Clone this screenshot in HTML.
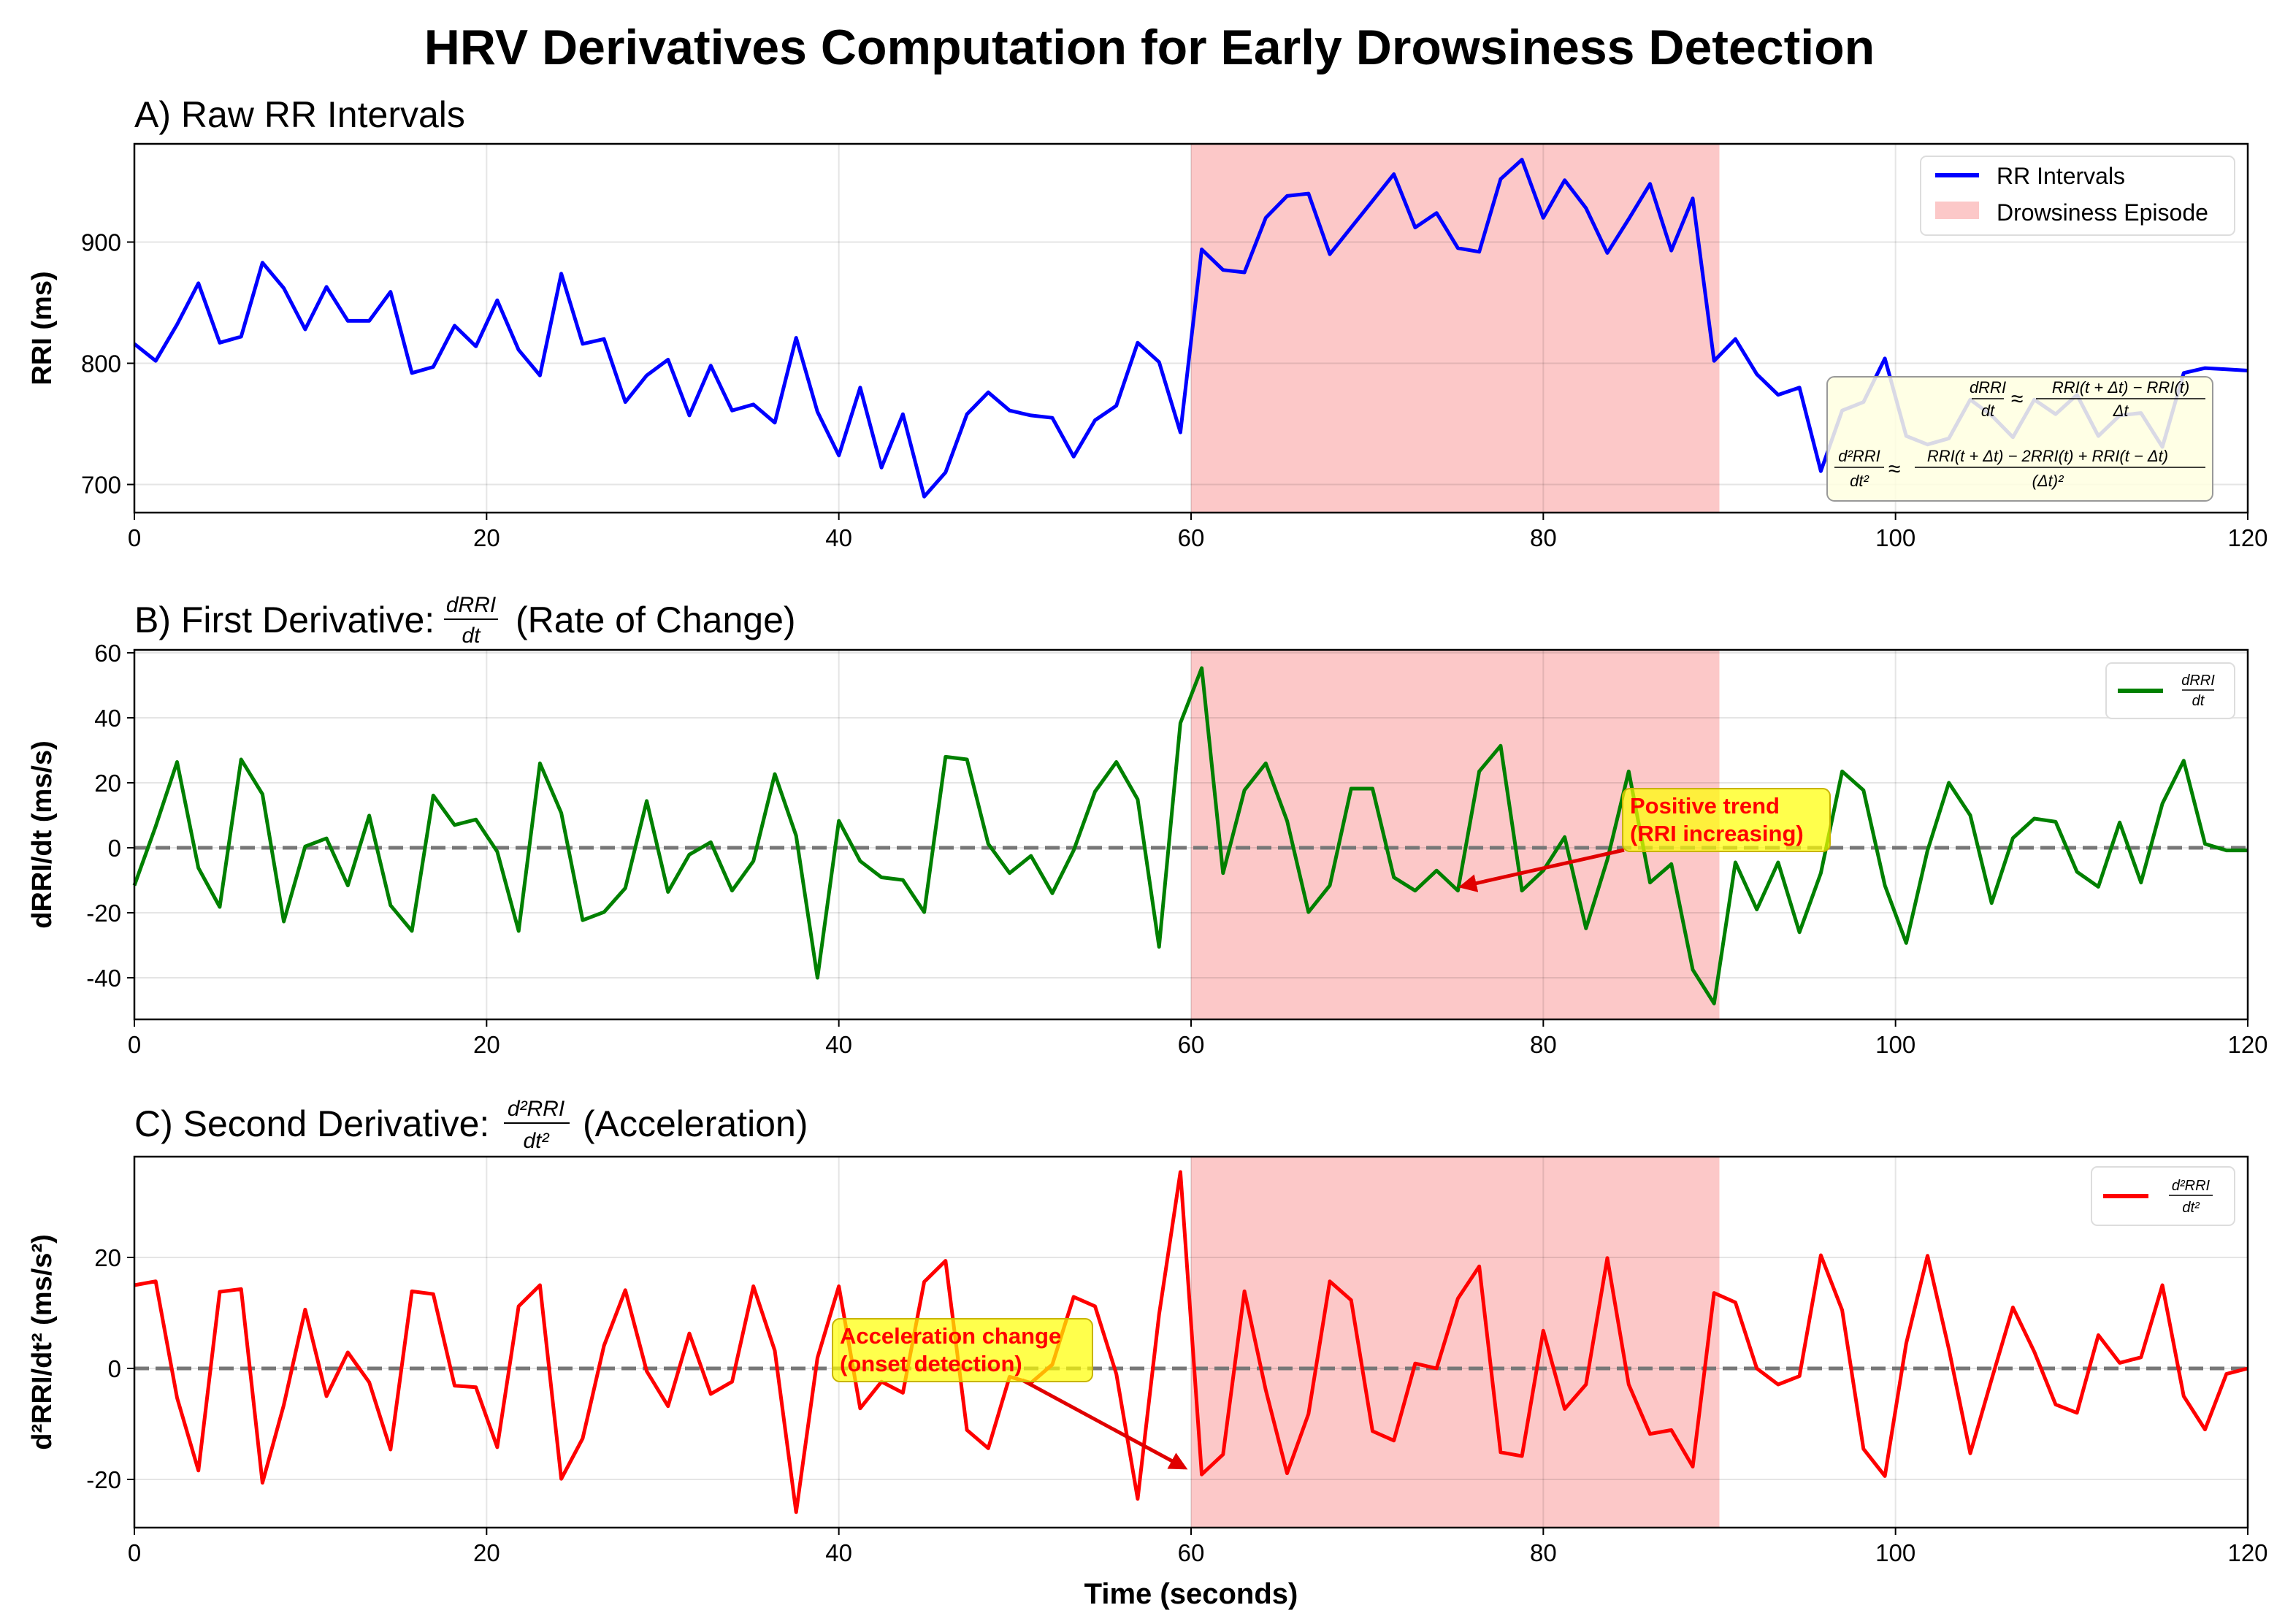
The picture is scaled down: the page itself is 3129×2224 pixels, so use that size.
<!DOCTYPE html>
<html><head><meta charset="utf-8"><style>
html,body{margin:0;padding:0;background:#fff;}
svg{display:block;font-family:"Liberation Sans",sans-serif;}
</style></head><body>
<svg id="fig" width="3129" height="2224" viewBox="0 0 3129 2224" xmlns="http://www.w3.org/2000/svg">
<text x="1574" y="88" text-anchor="middle" font-size="68" font-weight="bold">HRV Derivatives Computation for Early Drowsiness Detection</text>
<g id="gA"></g>
<g id="gB"></g>
<g id="gC"></g>
<text x="1631" y="2196" text-anchor="middle" font-size="40" font-weight="bold">Time (seconds)</text>
</svg>
<script>
const rri=[816,802,832,866,817,822,883,862,828,863,835,835,859,792,797,831,814,852,811,790,874,816,820,768,790,803,757,798,761,766,751,821,760,724,780,714,758,690,710,758,776,761,757,755,723,753,765,817,801,743,894,877,875,920,938,940,890,912,934,956,912,924,895,892,952,968,920,951,928,891,919,948,893,936,802,820,791,774,780,711,761,768,804,740,733,738,770,757,739,770,758,774,740,757,759,731,792,796,795,794];
const d1=[-11.6,6.6,26.4,-6.2,-18.2,27.2,16.5,-22.7,0.4,2.9,-11.6,9.9,-17.7,-25.6,16.1,7.0,8.7,-1.2,-25.6,26.0,10.7,-22.3,-19.8,-12.4,14.4,-13.6,-2.1,1.7,-13.2,-4.1,22.7,3.7,-40,8.3,-4.1,-9.1,-9.9,-19.8,28,27.2,1.2,-7.8,-2.5,-14,-0.8,17.3,26.4,14.9,-30.5,38.4,55.3,-7.8,17.7,26,8.3,-19.8,-11.6,18.2,18.2,-9.1,-13.2,-7.0,-13.2,23.5,31.4,-13.2,-7.0,3.3,-24.8,-3.7,23.5,-10.7,-5,-37.5,-47.9,-4.5,-19,-4.5,-26,-7.8,23.5,17.7,-11.6,-29.3,-0.8,20,10,-17,3,9,8,-7.4,-12,7.8,-10.7,13.6,26.8,1.2,-0.8,-0.8];
const d2=[15.0,15.7,-5.3,-18.4,13.8,14.3,-20.6,-6.6,10.6,-5,2.9,-2.5,-14.6,13.9,13.4,-3.1,-3.4,-14.2,11.2,15,-19.9,-12.6,4.1,14.1,-0.5,-6.8,6.3,-4.6,-2.4,14.8,3.2,-25.9,1.9,14.8,-7.2,-2.4,-4.4,15.6,19.4,-11.1,-14.4,-1.5,-2.6,0.7,12.9,11.2,-1,-23.5,9.7,35.4,-19.1,-15.5,13.9,-3.9,-18.9,-8.2,15.7,12.3,-11.3,-13,0.9,0,12.6,18.4,-15.1,-15.8,6.8,-7.3,-2.9,19.9,-2.9,-11.8,-11.1,-17.7,13.6,11.9,0,-2.9,-1.4,20.4,10.5,-14.5,-19.4,4.5,20.3,3.5,-15.3,-2,11,3,-6.5,-8,6,1,2,15,-5,-11,-1,0];
const xTicks=[0,20,40,60,80,100,120];
const ticksA=[700,800,900], ticksB=[-40,-20,0,20,40,60], ticksC=[-20,0,20];
const episode=[60,90];
const NS="http://www.w3.org/2000/svg";
const L=184,R=3078;
function X(t){return L+t*(R-L)/120;}
function mk(p,tag,attrs){const e=document.createElementNS(NS,tag);for(const k in attrs)e.setAttribute(k,attrs[k]);p.appendChild(e);return e;}
function panel(g,top,bot,v0,y0,v1,y1,ticks,data,color,ylab,prefix){
  const Y=v=>y0+(v-v0)*(y1-y0)/(v1-v0);
  let e=mk(g,'rect',{x:X(episode[0]),y:top,width:X(episode[1])-X(episode[0]),height:bot-top,fill:'#fcc8c8'});
  
  
  xTicks.forEach(t=>{mk(g,'line',{x1:X(t),x2:X(t),y1:top,y2:bot,stroke:'#000','stroke-opacity':0.1,'stroke-width':2});
    mk(g,'line',{x1:X(t),x2:X(t),y1:bot,y2:bot+10,stroke:'#000','stroke-width':2});
    const tx=mk(g,'text',{x:X(t),y:bot+46,'text-anchor':'middle','font-size':33});tx.textContent=t;
    
    });
  ticks.forEach(v=>{mk(g,'line',{x1:L,x2:R,y1:Y(v),y2:Y(v),stroke:'#000','stroke-opacity':0.1,'stroke-width':2});
    mk(g,'line',{x1:L-10,x2:L,y1:Y(v),y2:Y(v),stroke:'#000','stroke-width':2});
    const tx=mk(g,'text',{x:L-18,y:Y(v)+12,'text-anchor':'end','font-size':33});tx.textContent=v;
    
    });
  if(prefix!=='a'){const z=mk(g,'line',{x1:L,x2:R,y1:Y(0),y2:Y(0),stroke:'#777','stroke-width':5,'stroke-dasharray':'20 9'});
    
    }
  const pts=data.map((v,i)=>X(i*120/(data.length-1)).toFixed(1)+','+Y(v).toFixed(1)).join(' ');
  const pl=mk(g,'polyline',{points:pts,fill:'none',stroke:color,'stroke-width':5,'stroke-linejoin':'round'});
  
  
  const fr=mk(g,'rect',{x:L,y:top,width:R-L,height:bot-top,fill:'none',stroke:'#000','stroke-width':2.5});
  
  
  const yl=mk(g,'text',{x:0,y:0,transform:`translate(70,${(top+bot)/2}) rotate(-90)`,'text-anchor':'middle','font-size':38,'font-weight':'bold'});yl.textContent=ylab;
  
  
  return Y;
}
const gA=document.getElementById('gA'),gB=document.getElementById('gB'),gC=document.getElementById('gC');
panel(gA,197,702,900,331.5,800,497.5,ticksA,rri,'#0000ff','RRI (ms)','a');
panel(gB,890,1396,0,1161,20,1072,ticksB,d1,'#008000','dRRI/dt (ms/s)','b');
panel(gC,1584,2092,0,1874,20,1722,ticksC,d2,'#ff0000','d²RRI/dt² (ms/s²)','c');
</script>
<svg style="position:absolute;left:0;top:0" width="3129" height="2224" xmlns="http://www.w3.org/2000/svg" font-family="Liberation Sans, sans-serif">
<defs><marker id="ah" markerWidth="5" markerHeight="5" refX="4" refY="2.5" orient="auto" markerUnits="strokeWidth"><path d="M0,0 L5,2.5 L0,5 z" fill="#e00000"/></marker></defs>
<text x="184" y="174" font-size="50">A) Raw RR Intervals</text>
<g>
<text x="184" y="866" font-size="50">B) First Derivative:</text>
<text x="645" y="838" font-size="30" font-style="italic" text-anchor="middle">dRRI</text>
<line x1="608" x2="682" y1="848" y2="848" stroke="#000" stroke-width="2"/>
<text x="645" y="880" font-size="30" font-style="italic" text-anchor="middle">dt</text>
<text x="706" y="866" font-size="50">(Rate of Change)</text>
</g>
<g>
<text x="184" y="1556" font-size="50">C) Second Derivative:</text>
<text x="734" y="1528" font-size="30" font-style="italic" text-anchor="middle">d²RRI</text>
<line x1="690" x2="780" y1="1538" y2="1538" stroke="#000" stroke-width="2"/>
<text x="734" y="1572" font-size="30" font-style="italic" text-anchor="middle">dt²</text>
<text x="798" y="1556" font-size="50">(Acceleration)</text>
</g>
<g>
<rect x="2630" y="214" width="430" height="108" rx="8" fill="#fff" fill-opacity="0.85" stroke="#ddd" stroke-width="2"/>
<line x1="2650" x2="2710" y1="240" y2="240" stroke="#0000ff" stroke-width="6"/>
<text x="2734" y="252" font-size="32">RR Intervals</text>
<rect x="2650" y="276" width="60" height="24" fill="#fcc8c8"/>
<text x="2734" y="302" font-size="32">Drowsiness Episode</text>
</g>
<g>
<rect x="2502" y="516" width="528" height="170" rx="10" fill="#ffffe0" fill-opacity="0.85" stroke="#999" stroke-width="2"/>
<text x="2722" y="538" font-size="22" font-style="italic" text-anchor="middle">dRRI</text>
<line x1="2700" x2="2744" y1="546" y2="546" stroke="#000" stroke-width="1.5"/>
<text x="2722" y="570" font-size="22" font-style="italic" text-anchor="middle">dt</text>
<text x="2754" y="556" font-size="30">≈</text>
<text x="2904" y="538" font-size="22" font-style="italic" text-anchor="middle">RRI(t + Δt) − RRI(t)</text>
<line x1="2788" x2="3020" y1="546" y2="546" stroke="#000" stroke-width="1.5"/>
<text x="2904" y="570" font-size="22" font-style="italic" text-anchor="middle">Δt</text>
<text x="2546" y="632" font-size="22" font-style="italic" text-anchor="middle">d²RRI</text>
<line x1="2512" x2="2580" y1="640" y2="640" stroke="#000" stroke-width="1.5"/>
<text x="2546" y="666" font-size="22" font-style="italic" text-anchor="middle">dt²</text>
<text x="2586" y="652" font-size="30">≈</text>
<text x="2804" y="632" font-size="22" font-style="italic" text-anchor="middle">RRI(t + Δt) − 2RRI(t) + RRI(t − Δt)</text>
<line x1="2622" x2="3020" y1="640" y2="640" stroke="#000" stroke-width="1.5"/>
<text x="2804" y="666" font-size="22" font-style="italic" text-anchor="middle">(Δt)²</text>
</g>
<g>
<rect x="2884" y="908" width="176" height="76" rx="8" fill="#fff" fill-opacity="0.85" stroke="#ddd" stroke-width="2"/>
<line x1="2900" x2="2962" y1="946" y2="946" stroke="#008000" stroke-width="6"/>
<text x="3010" y="938" font-size="20" font-style="italic" text-anchor="middle">dRRI</text>
<line x1="2988" x2="3032" y1="945" y2="945" stroke="#000" stroke-width="1.5"/>
<text x="3010" y="966" font-size="20" font-style="italic" text-anchor="middle">dt</text>
</g>
<g>
<rect x="2864" y="1598" width="196" height="80" rx="8" fill="#fff" fill-opacity="0.85" stroke="#ddd" stroke-width="2"/>
<line x1="2880" x2="2942" y1="1638" y2="1638" stroke="#ff0000" stroke-width="6"/>
<text x="3000" y="1630" font-size="20" font-style="italic" text-anchor="middle">d²RRI</text>
<line x1="2970" x2="3030" y1="1637" y2="1637" stroke="#000" stroke-width="1.5"/>
<text x="3000" y="1660" font-size="20" font-style="italic" text-anchor="middle">dt²</text>
</g>
<g>
<line x1="2224" y1="1164" x2="2002" y2="1214" stroke="#e00000" stroke-width="5" marker-end="url(#ah)"/>
<rect x="2222" y="1080" width="284" height="86" rx="10" fill="#ffff00" fill-opacity="0.7" stroke="#c8b400" stroke-width="2"/>
<text x="2232" y="1114" font-size="31" font-weight="bold" fill="#ff0000">Positive trend</text>
<text x="2232" y="1152" font-size="31" font-weight="bold" fill="#ff0000">(RRI increasing)</text>
</g>
<g>
<line x1="1400" y1="1890" x2="1622" y2="2010" stroke="#e00000" stroke-width="5" marker-end="url(#ah)"/>
<rect x="1140" y="1806" width="356" height="86" rx="10" fill="#ffff00" fill-opacity="0.7" stroke="#c8b400" stroke-width="2"/>
<text x="1150" y="1840" font-size="31" font-weight="bold" fill="#ff0000">Acceleration change</text>
<text x="1150" y="1878" font-size="31" font-weight="bold" fill="#ff0000">(onset detection)</text>
</g>
</svg>
</body></html>
